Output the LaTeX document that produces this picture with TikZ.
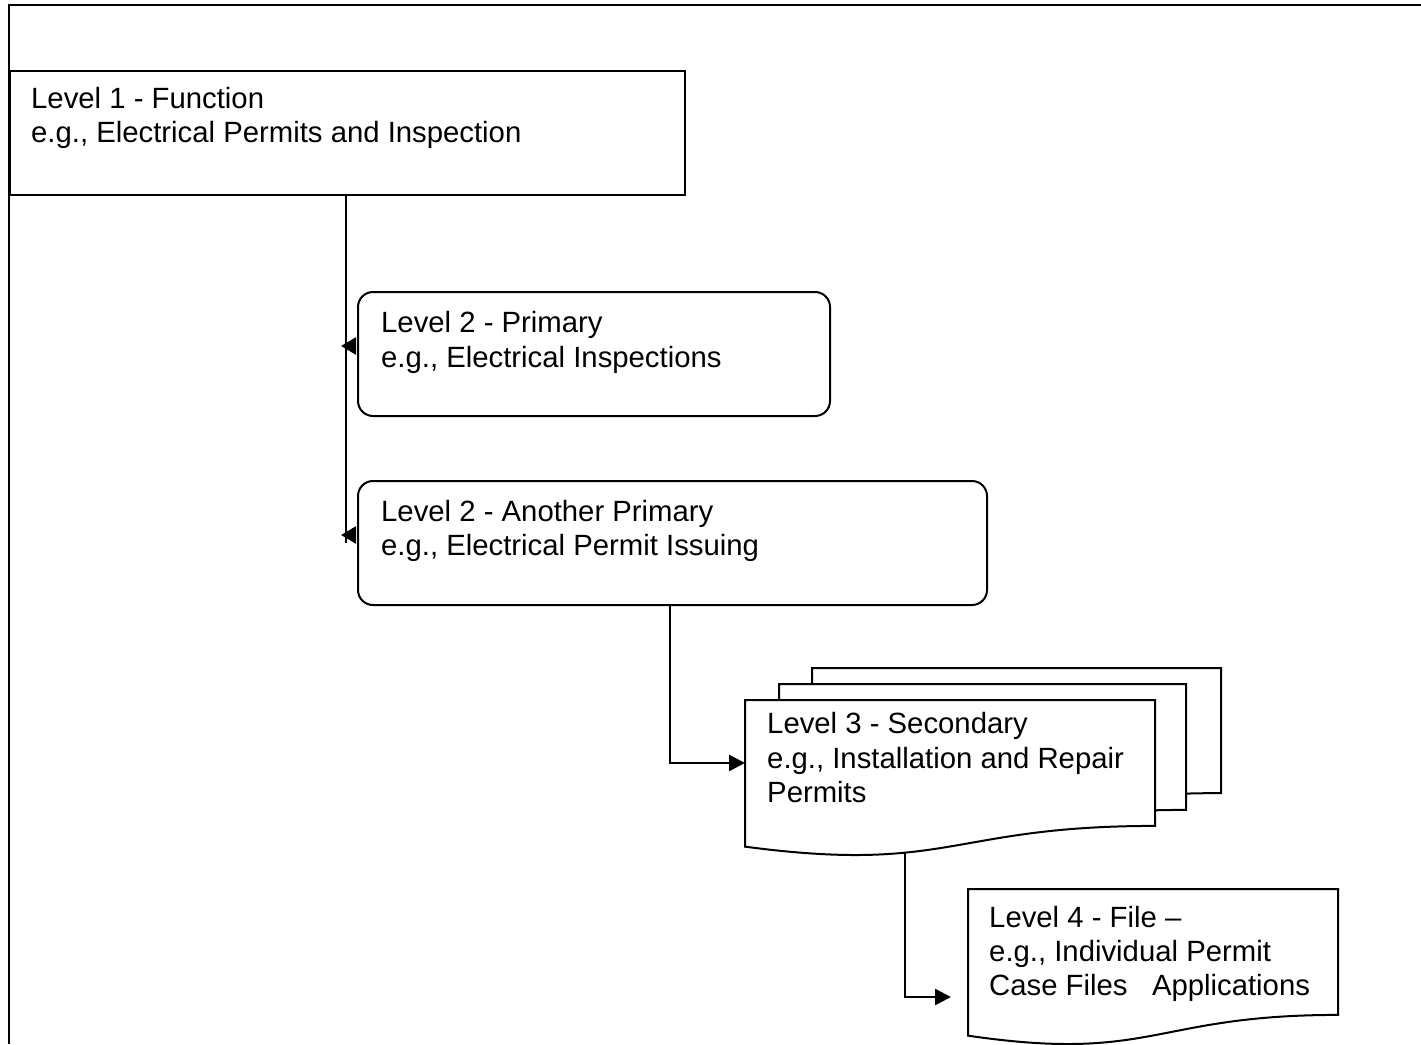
\documentclass[tikz,border=0pt]{standalone}
\usepackage{fontspec}
\setmainfont{Liberation Sans}
\usetikzlibrary{arrows.meta,calc}
\newcommand\docshape[5]{%
  \draw[boxline, fill=white] (#2,#3) -- ({#2+#4},#3) -- ({#2+#4},{#3+0.802*#5})
    .. controls ({#2+0.5*#4},{#3+0.802*#5}) and ({#2+0.5*#4},{#3+1.1075*#5}) .. (#2,{#3+0.934*#5}) -- cycle;
  \node[inner sep=0pt, outer sep=0pt, anchor=north west, minimum width=#4*1pt, minimum height={0.802*#5*1pt}] (#1) at (#2,#3) {};
}
\begin{document}
\begin{tikzpicture}[x=1pt,y=-1pt,
  boxline/.style={draw=black, line width=2pt},
  conn/.style={draw=black, line width=2.6pt},
  tip/.style={-{Triangle[length=16pt,width=16pt]}},
  ltip/.style={-{Triangle[length=15pt,width=17pt]}},
  lbl/.style={anchor=base west, inner sep=0pt, font=\fontsize{29.3}{34}\selectfont},
  rbox/.style={boxline, anchor=north west, inner sep=0pt, minimum height=124pt},
]
\useasboundingbox (0,0) rectangle (1421,1044);
\draw[line width=2.4pt] (1421,5) -- (9,5) -- (9,1044);

% Level 1
\node[rbox, minimum width=675pt] (l1) at (9,70) {};
\node[lbl] (t1a) at (31,108) {Level 1 - Function};
\node[lbl] (t1b) at (31,142) {e.g., Electrical Permits and Inspection};

% Level 2 boxes
\node[rbox, rounded corners=15pt, minimum width=472pt] (l2a) at (357,291) {};
\node[lbl] (t2a) at (381,332) {Level 2 - Primary};
\node[lbl] (t2b) at (381,367) {e.g., Electrical Inspections};

\node[rbox, rounded corners=15pt, minimum width=629pt] (l2b) at (357,480) {};
\node[lbl] (t3a) at (381,521) {Level 2 - Another Primary};
\node[lbl] (t3b) at (381,555) {e.g., Electrical Permit Issuing};

% Level 3 multi-document
\docshape{l3c}{812}{668}{409}{156}
\docshape{l3b}{779}{684}{407}{157}
\docshape{l3}{745}{700}{410}{157}
\node[lbl] (t4a) at (767,733) {Level 3 - Secondary};
\node[lbl] (t4b) at (767,768) {e.g., Installation and Repair};
\node[lbl] (t4c) at (767,802) {Permits};

% Level 4 document
\docshape{l4}{968}{889}{370}{157}
\node[lbl] (t5a) at (989,927) {Level 4 - File –};
\node[lbl] (t5b) at (989,961) {e.g., Individual Permit};
\node[lbl] (t5c) at (989,995) {Case Files\ \ \ Applications};

% connectors
\coordinate (vx) at (346,0);
\draw[conn] (l1.south -| vx) -- (vx |- l2b.west);
\draw[conn, ltip] ($(l2a.west)+(-1,-8)$) -- ($(l2a.west)+(-16,-8)$);
\draw[conn, ltip] ($(l2b.west)+(-1,-8)$) -- ($(l2b.west)+(-16,-8)$);

\coordinate (vx2) at (670,0);
\draw[conn, tip] (l2b.south -| vx2) |- (l3.west);

\coordinate (l3out) at (905,853);
\coordinate (l4in) at (951,997);
\draw[conn, tip] (l3out) |- (l4in);
\end{tikzpicture}
\end{document}
